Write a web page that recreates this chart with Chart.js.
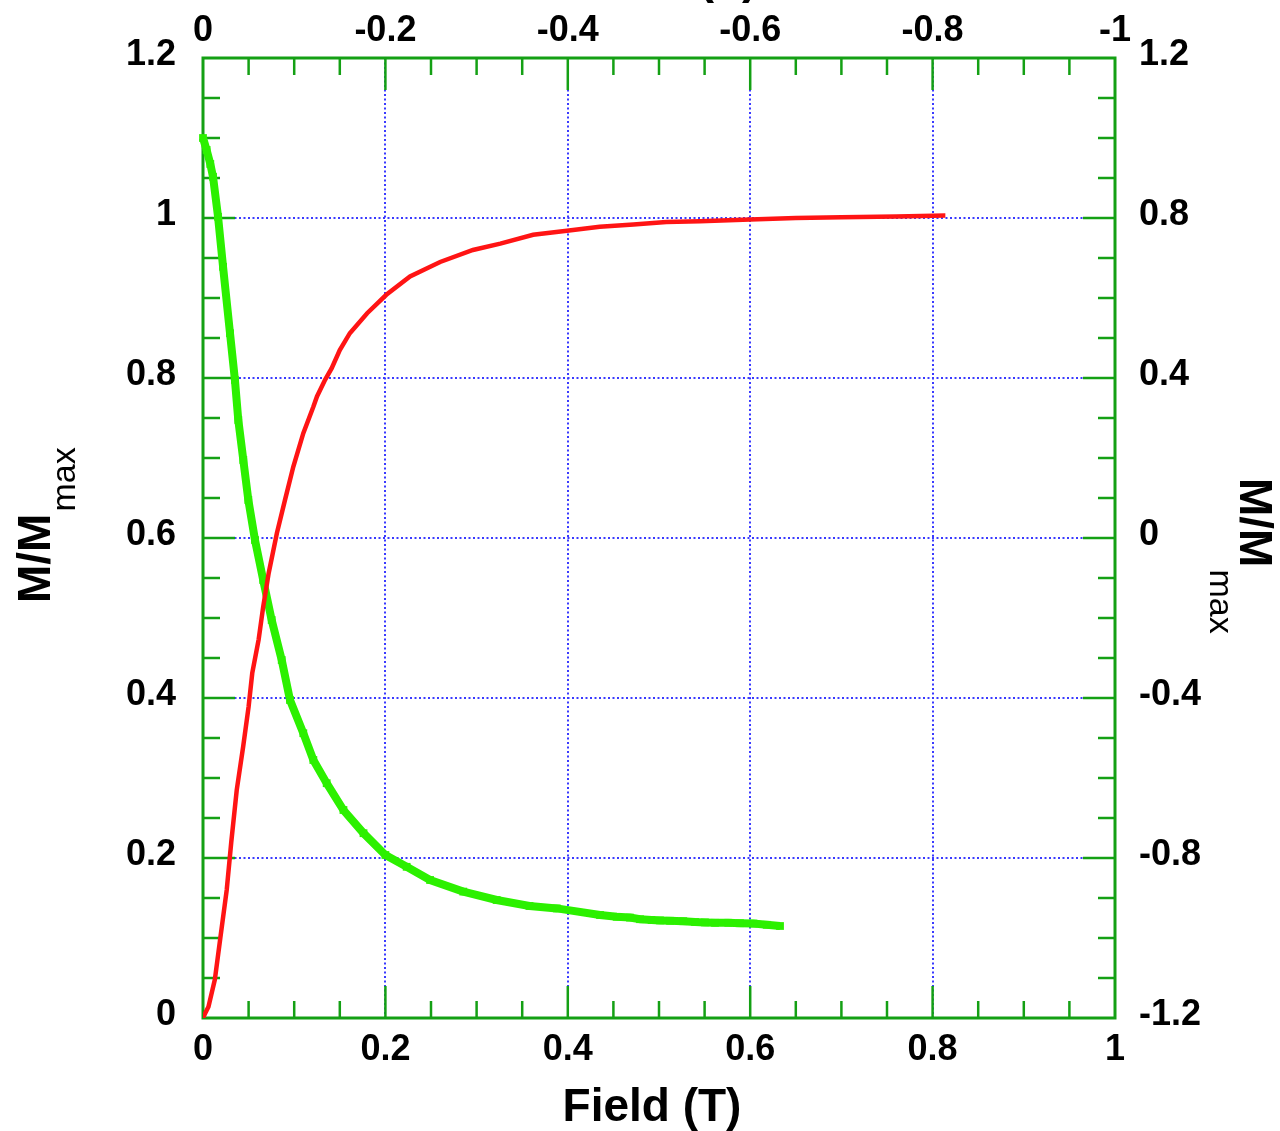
<!DOCTYPE html>
<html>
<head>
<meta charset="utf-8">
<script src="https://cdn.jsdelivr.net/npm/chart.js@4.4.1/dist/chart.umd.min.js"></script>
<style>
  html,body{margin:0;padding:0;background:#fff;}
  #wrap{width:1280px;height:1131px;position:relative;}
</style>
</head>
<body>
<div id="wrap"><canvas id="cv"></canvas></div>
<script>
// red curve: bottom field axis (T) vs left M/Mmax
const redField = [0, 0.002, 0.006, 0.013, 0.019, 0.026, 0.031, 0.037, 0.044, 0.050, 0.054, 0.061, 0.066, 0.072, 0.081, 0.090, 0.099, 0.110, 0.121, 0.125, 0.134, 0.141, 0.150, 0.161, 0.180, 0.201, 0.227, 0.260, 0.296, 0.326, 0.362, 0.399, 0.435, 0.472, 0.508, 0.545, 0.600, 0.650, 0.700, 0.760, 0.814];
const redM     = [0, 0.005, 0.014, 0.048, 0.100, 0.160, 0.220, 0.285, 0.339, 0.389, 0.431, 0.473, 0.514, 0.556, 0.606, 0.648, 0.689, 0.731, 0.764, 0.777, 0.798, 0.812, 0.835, 0.856, 0.881, 0.904, 0.927, 0.945, 0.960, 0.968, 0.979, 0.984, 0.989, 0.992, 0.995, 0.996, 0.998, 1.000, 1.001, 1.002, 1.003];

// green curve: top field axis (negative T) vs right M/Mmax
const greenField = [0, -0.004, -0.008, -0.011, -0.0165, -0.022, -0.0296, -0.035, -0.0387, -0.0442, -0.0497, -0.057, -0.066, -0.0753, -0.0863, -0.0954, -0.110, -0.121, -0.1356, -0.154, -0.176, -0.200, -0.2233, -0.249, -0.2854, -0.322, -0.358, -0.388, -0.4353, -0.4536, -0.4682, -0.4792, -0.492, -0.5011, -0.5121, -0.5266, -0.5395, -0.5504, -0.5614, -0.576, -0.5888, -0.6034, -0.6181, -0.6327];
const greenM     = [1.0, 0.970, 0.935, 0.903, 0.803, 0.678, 0.512, 0.395, 0.295, 0.195, 0.095, -0.005, -0.105, -0.205, -0.305, -0.405, -0.488, -0.555, -0.613, -0.680, -0.738, -0.7925, -0.822, -0.855, -0.884, -0.905, -0.920, -0.926, -0.9425, -0.947, -0.949, -0.953, -0.955, -0.956, -0.957, -0.958, -0.960, -0.961, -0.962, -0.962, -0.963, -0.964, -0.967, -0.970];

// axis ranges / tick steps
const bottomRange = [0, 1],    bottomStep = 0.2, bottomMinor = 0.05;
const topRange    = [-1, 0],   topStep = 0.2,    topMinor = 0.05;
const leftRange   = [0, 1.2],  leftStep = 0.2,   leftMinor = 0.05;
const rightRange  = [-1.2, 1.2], rightStep = 0.4, rightMinor = 0.1;
const titleX = 'Field (T)';
const titleY = 'M/M', titleYSub = 'max';

const FRAME = '#14a014';
const GRID = '#3a3aff';
const FONT = "'Liberation Sans', Arial, Helvetica, sans-serif";

const fmt = v => String(+(+v).toFixed(2));
const tickFont = { family: FONT, size: 36, weight: 'bold' };

function inner(lo, hi){
  return c => (c.tick && c.tick.value > lo + 1e-6 && c.tick.value < hi - 1e-6) ? GRID : 'rgba(0,0,0,0)';
}

const frameTicks = {
  id: 'frameTicks',
  beforeDatasetsDraw(chart){
    const {ctx, chartArea: a, scales} = chart;
    ctx.save();
    ctx.strokeStyle = FRAME;
    ctx.lineWidth = 2.5;
    const line = (x1,y1,x2,y2) => { ctx.beginPath(); ctx.moveTo(x1,y1); ctx.lineTo(x2,y2); ctx.stroke(); };
    const steps = (r, minor, major, fn) => {
      const n = Math.round((r[1]-r[0])/minor);
      const every = Math.round(major/minor);
      for (let i = 1; i < n; i++) fn(r[0] + i*minor, i % every === 0 ? 32 : 17);
    };
    steps(bottomRange, bottomMinor, bottomStep, (v,l) => { const p = scales.x.getPixelForValue(v); line(p, a.bottom, p, a.bottom - l); });
    steps(topRange, topMinor, topStep, (v,l) => { const p = scales.x2.getPixelForValue(v); line(p, a.top, p, a.top + l); });
    steps(leftRange, leftMinor, leftStep, (v,l) => { const p = scales.y.getPixelForValue(v); line(a.left, p, a.left + l, p); });
    steps(rightRange, rightMinor, rightStep, (v,l) => { const p = scales.y2.getPixelForValue(v); line(a.right, p, a.right - l, p); });
    ctx.lineWidth = 3;
    ctx.strokeRect(a.left, a.top, a.right - a.left, a.bottom - a.top);
    ctx.restore();
  },
  afterDraw(chart){
    const {ctx} = chart;
    ctx.save();
    ctx.fillStyle = '#000';
    // bottom title
    ctx.font = `bold 46px ${FONT}`;
    ctx.textAlign = 'center';
    ctx.textBaseline = 'alphabetic';
    ctx.fillText(titleX, 652, 1121);
    // top title (mostly outside the canvas, as in the original)
    ctx.fillText(titleX, 668, -7);
    // left title, reads bottom to top
    ctx.save();
    ctx.translate(50, 603);
    ctx.rotate(-Math.PI/2);
    ctx.textAlign = 'left';
    ctx.font = `bold 46px ${FONT}`;
    ctx.fillText(titleY, 0, 0);
    const w1 = ctx.measureText(titleY).width;
    ctx.font = `34px ${FONT}`;
    ctx.fillText(titleYSub, w1 + 2, 25);
    ctx.restore();
    // right title, reads top to bottom
    ctx.save();
    ctx.translate(1240, 478);
    ctx.rotate(Math.PI/2);
    ctx.textAlign = 'left';
    ctx.font = `bold 46px ${FONT}`;
    ctx.fillText(titleY, 0, 0);
    const w2 = ctx.measureText(titleY).width;
    ctx.font = `34px ${FONT}`;
    ctx.fillText(titleYSub, w2 + 2, 30);
    ctx.restore();
    ctx.restore();
  }
};

new Chart(document.getElementById('cv'), {
  type: 'scatter',
  data: {
    datasets: [
      {
        label: 'up',
        data: redField.map((x,i) => ({x, y: redM[i]})),
        xAxisID: 'x', yAxisID: 'y',
        showLine: true, borderColor: '#ff1414', backgroundColor: '#ff1414',
        borderWidth: 4.5, pointRadius: 0, tension: 0
      },
      {
        label: 'down',
        data: greenField.map((x,i) => ({x, y: greenM[i]})),
        xAxisID: 'x2', yAxisID: 'y2',
        showLine: true, borderColor: '#2cf000', backgroundColor: '#2cf000',
        borderWidth: 8, pointRadius: 5.5, pointStyle: 'rect', pointBorderWidth: 0,
        tension: 0, clip: false
      }
    ]
  },
  options: {
    responsive: true,
    maintainAspectRatio: false,
    animation: false,
    layout: { padding: 0 },
    plugins: { legend: { display: false }, tooltip: { enabled: false } },
    scales: {
      x: {
        type: 'linear', position: 'bottom', min: bottomRange[0], max: bottomRange[1],
        afterFit: s => { s.height = 113; },
        ticks: { stepSize: bottomStep, callback: fmt, font: tickFont, color: '#000', padding: 10, maxRotation: 0 },
        grid: { color: inner(bottomRange[0], bottomRange[1]), lineWidth: 2, drawTicks: false },
        border: { display: false, dash: [2, 2.5] }
      },
      x2: {
        type: 'linear', position: 'top', min: topRange[0], max: topRange[1], reverse: true,
        afterFit: s => { s.height = 58; },
        ticks: { stepSize: topStep, callback: fmt, font: tickFont, color: '#000', padding: 5, maxRotation: 0 },
        grid: { display: false, drawTicks: false },
        border: { display: false }
      },
      y: {
        type: 'linear', position: 'left', min: leftRange[0], max: leftRange[1],
        afterFit: s => { s.width = 203; },
        ticks: { stepSize: leftStep, callback: fmt, font: tickFont, color: '#000', padding: 27, labelOffset: -3 },
        grid: { color: inner(leftRange[0], leftRange[1]), lineWidth: 2, drawTicks: false },
        border: { display: false, dash: [2, 2.5] }
      },
      y2: {
        type: 'linear', position: 'right', min: rightRange[0], max: rightRange[1],
        afterFit: s => { s.width = 165; },
        ticks: { stepSize: rightStep, callback: fmt, font: tickFont, color: '#000', padding: 24, labelOffset: -3 },
        grid: { display: false, drawTicks: false },
        border: { display: false }
      }
    }
  },
  plugins: [frameTicks]
});
</script>
</body>
</html>
